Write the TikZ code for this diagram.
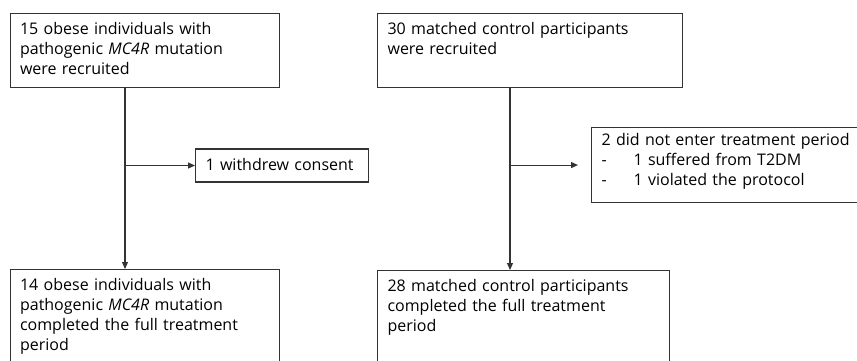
\documentclass[tikz,border=0pt]{standalone}
\usepackage{fontspec}
\setmainfont{Open Sans}
\usetikzlibrary{positioning, calc, arrows.meta}

\begin{document}
\begin{tikzpicture}[
  x=1pt, y=-1pt,
  font=\fontsize{16}{20}\selectfont,
  flowbox/.style={
    draw=black!80,
    line width=1.1pt,
    anchor=north west,
    align=left,
    inner xsep=10pt,
    inner ysep=6pt,
    text height=15pt,
  },
  flow/.style={draw=black!80, line width=1.1pt, -{Triangle[length=7pt, width=6pt]}},
]
\useasboundingbox (0,0) rectangle (857,360);
\clip (0,0) rectangle (857,360);

% --- MC4R group, start ---
\node[flowbox, text width=249.5pt, text depth=47pt] (MutStart) at (9.5,13) {
  15 obese individuals with\\
  pathogenic \textit{MC4R} mutation\\
  were recruited};

% --- Control group, start ---
\node[flowbox, text width=285pt, text depth=47pt] (CtrlStart) at (377,13) {
  30 matched control participants\\
  were recruited};

% --- Exclusions ---
\node[flowbox, anchor=west, text height=11pt, text width=153pt, minimum height=33pt] (Withdraw) at (195,165.5) {
  1 withdrew consent};

\node[flowbox, text height=12pt, text width=280pt, text depth=51pt] (NotEnter) at (591,127) {
  2 did not enter treatment period\\
  \makebox[32pt][l]{-}1 suffered from T2DM\\
  \makebox[32pt][l]{-}1 violated the protocol};

% --- MC4R group, end ---
\node[flowbox, text width=249.5pt, text depth=120pt] (MutEnd) at (9.5,269) {
  14 obese individuals with\\
  pathogenic \textit{MC4R} mutation\\
  completed the full treatment\\
  period};

% --- Control group, end ---
\node[flowbox, text width=272pt, text depth=120pt] (CtrlEnd) at (377,270) {
  28 matched control participants\\
  completed the full treatment\\
  period};

% Trunks and side branches
\coordinate (MutTrunk) at ($(MutStart.south west)+(115.5,0)$);
\coordinate (CtrlTrunk) at ($(CtrlStart.south west)+(133,0)$);

\draw[flow] (MutTrunk) -- (MutTrunk |- MutEnd.north);
\draw[flow] (MutTrunk |- Withdraw.west) -- (Withdraw.west);

\draw[flow] (CtrlTrunk) -- (CtrlTrunk |- CtrlEnd.north);
\draw[flow, shorten >=13pt] (CtrlTrunk |- NotEnter.west) -- (NotEnter.west);

\end{tikzpicture}
\end{document}
